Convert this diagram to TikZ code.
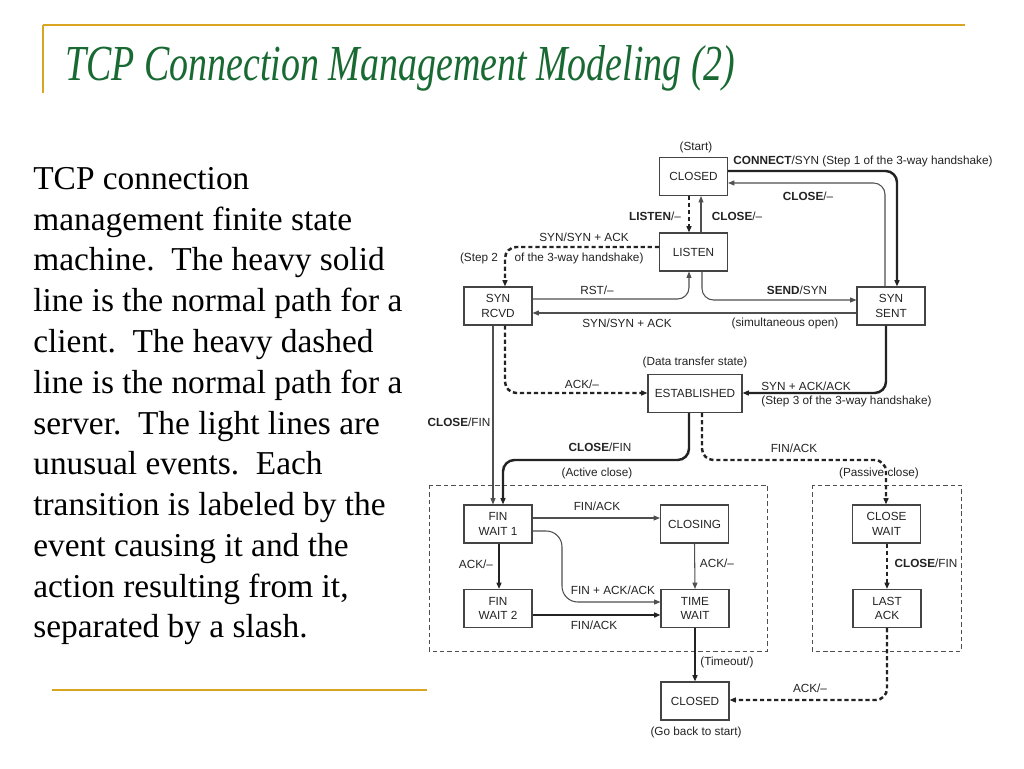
\documentclass[tikz,border=0pt]{standalone}
\usepackage{graphicx}
\usepackage{fontspec}
\setmainfont{Liberation Serif}
\newfontfamily\arialf{Liberation Sans}
\usetikzlibrary{arrows.meta,calc}
\definecolor{gold}{RGB}{218,165,32}
\definecolor{titlegreen}{RGB}{25,105,50}
\definecolor{ink}{RGB}{35,35,35}
\begin{document}
\begin{tikzpicture}[x=0.02cm,y=-0.02cm,
 state/.style={draw=ink!85, line width=0.6pt, minimum width=1.36cm, minimum height=0.76cm, inner sep=0pt, align=center, font=\arialf\fontsize{6.7pt}{8.4pt}\selectfont, text=ink},
 lbl/.style={font=\arialf\fontsize{6.7pt}{8pt}\selectfont, inner sep=0pt, text=ink},
 heavy/.style={line width=1.4pt, draw=ink},
 hdash/.style={heavy, dash pattern=on 2.4pt off 1.6pt},
 light/.style={line width=0.6pt, draw=ink!80},
 tip/.style={-{Triangle[length=3.6pt,width=2.8pt]}},
 rc/.style={rounded corners=6.5pt},
 grp/.style={draw=ink!80, line width=0.5pt, dash pattern=on 2.5pt off 1.7pt},
 goldline/.style={draw=gold, line width=1.2pt}]
\useasboundingbox[fill=white] (0,0) rectangle (1024,768);

% header
\draw[goldline] (43,25) -- (965,25);
\draw[goldline] (43,25) -- (43,93);
\draw[goldline] (52,690) -- (427,690);
\node[anchor=base west, inner sep=0pt, text=titlegreen] (title) at (65,80)
  {\resizebox{13.4cm}{0.7cm}{\itshape TCP Connection Management Modeling (2)}};

% body text
\node[anchor=north west, inner sep=0pt, align=left, font=\fontsize{19pt}{23.2pt}\selectfont] (body) at (33,167)
 {TCP connection\\
  management finite state\\
  machine.\ \ The heavy solid\\
  line is the normal path for a\\
  client.\ \ The heavy dashed\\
  line is the normal path for a\\
  server.\ \ The light lines are\\
  unusual events.\ \ Each\\
  transition is labeled by the\\
  event causing it and the\\
  action resulting from it,\\
  separated by a slash.};

% groups
\draw[grp] (429,485) rectangle (767,651);
\draw[grp] (812,485) rectangle (961,651);

% states
\node[state] (c0) at (693.5,176.5) {CLOSED};
\node[state] (listen) at (693.5,252) {LISTEN};
\node[state] (rcvd) at (498,306) {SYN\\RCVD};
\node[state] (sent) at (891,306) {SYN\\SENT};
\node[state, minimum width=1.88cm] (est) at (695,393.5) {ESTABLISHED};
\node[state] (fw1) at (498,524) {FIN\\WAIT 1};
\node[state] (closing) at (694.5,524) {CLOSING};
\node[state] (cw) at (886.5,524) {CLOSE\\WAIT};
\node[state] (fw2) at (498,608.5) {FIN\\WAIT 2};
\node[state] (tw) at (695,608.5) {TIME\\WAIT};
\node[state] (la) at (887,608.5) {LAST\\ACK};
\node[state] (c1) at (695,701) {CLOSED};

% connectors
\draw[heavy,tip,rc] (c0.east |- 0,171) -| (sent.north -| 897,0);
\draw[light,tip,rc] (sent.north -| 885,0) |- (c0.east |- 0,183);
\draw[hdash,tip] (c0.south -| 689,0) -- (listen.north -| 689,0);
\draw[light,tip] (listen.north -| 701,0) -- (c0.south -| 701,0);
\draw[hdash,tip,rc] (listen.west |- 0,247) -| (rcvd.north -| 505,0);
\draw[light,tip,rc] (rcvd.east |- 0,299) -| (listen.south -| 689,0);
\draw[light,tip,rc] (listen.south -| 702,0) |- (sent.west |- 0,300);
\draw[light,tip] (sent.west |- 0,313) -- (rcvd.east |- 0,313);
\draw[hdash,tip,rc] (rcvd.south -| 505,0) |- (est.west |- 0,393);
\draw[heavy,tip,rc] (sent.south -| 886,0) |- (est.east |- 0,393);
\draw[light,tip] (rcvd.south -| 493,0) -- (fw1.north -| 493,0);
\draw[heavy,tip,rc] (est.south -| 689,0) |- (503,460) -- (fw1.north -| 503,0);
\draw[hdash,tip,rc] (est.south -| 702,0) |- (886,460) -- (cw.north -| 886,0);
\draw[light,tip] (fw1.east |- 0,518) -- (closing.west |- 0,518);
\draw[heavy,tip] (fw1.south -| 499,0) -- (fw2.north -| 499,0);
\draw[light,tip,rounded corners=9pt] (fw1.east |- 0,531) -| (562,602) -- (tw.west |- 0,602);
\draw[light,tip] (closing.south) -- (tw.north);
\draw[heavy,tip] (fw2.east |- 0,615) -- (tw.west |- 0,615);
\draw[heavy,tip] (tw.south) -- (c1.north);
\draw[hdash,tip] (cw.south -| 887,0) -- (la.north -| 887,0);
\draw[hdash,tip,rc] (la.south -| 887,0) |- (c1.east |- 0,700);

% labels
\node[lbl] (tstart) at (696,147) {(Start)};
\node[lbl] (t1) at (863,161) {{\bfseries CONNECT}/SYN (Step 1 of the 3-way handshake)};
\node[lbl] (t2) at (808,196) {{\bfseries CLOSE}/–};
\node[lbl] (t3) at (655,216) {{\bfseries LISTEN}/–};
\node[lbl] (t4) at (737,216) {{\bfseries CLOSE}/–};
\node[lbl] (t5) at (584,237) {SYN/SYN + ACK};
\node[lbl] (t6) at (479,258) {(Step 2};
\node[lbl] (t7) at (579,258) {of the 3-way handshake)};
\node[lbl] (t8) at (597,290) {RST/–};
\node[lbl] (t9) at (797,290) {{\bfseries SEND}/SYN};
\node[lbl] (t10) at (627,323) {SYN/SYN + ACK};
\node[lbl] (t11) at (785,323) {(simultaneous open)};
\node[lbl] (t12) at (695,362) {(Data transfer state)};
\node[lbl] (t13) at (582,384) {ACK/–};
\node[lbl, anchor=west] (t14) at (761,386) {SYN + ACK/ACK};
\node[lbl, anchor=west] (t15) at (761,401) {(Step 3 of the 3-way handshake)};
\node[lbl] (t16) at (459,422) {{\bfseries CLOSE}/FIN};
\node[lbl] (t17) at (600,447) {{\bfseries CLOSE}/FIN};
\node[lbl] (t18) at (597,473) {(Active close)};
\node[lbl] (t19) at (794,448) {FIN/ACK};
\node[lbl] (t20) at (879,473) {(Passive close)};
\node[lbl] (t21) at (597,506) {FIN/ACK};
\node[lbl] (t22) at (476,564) {ACK/–};
\node[lbl] (t23) at (717,563) {ACK/–};
\node[lbl] (t24) at (926,563) {{\bfseries CLOSE}/FIN};
\node[lbl] (t25) at (613,590) {FIN + ACK/ACK};
\node[lbl] (t26) at (594,625) {FIN/ACK};
\node[lbl] (t27) at (727,662) {(Timeout/)};
\node[lbl] (t28) at (810,688) {ACK/–};
\node[lbl] (t29) at (696,732) {(Go back to start)};
\end{tikzpicture}
\end{document}
